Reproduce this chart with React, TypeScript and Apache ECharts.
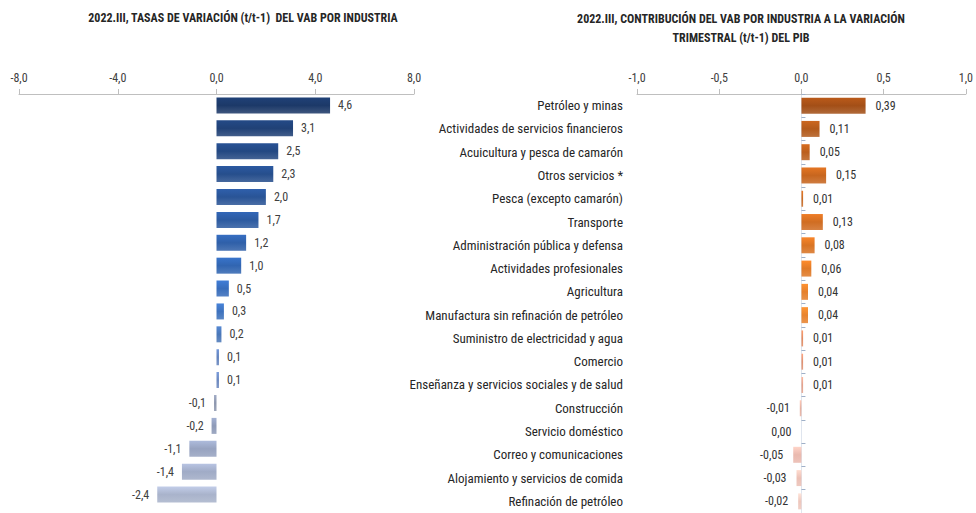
import React, { useEffect, useRef } from "react";
import * as echarts from "echarts";

const leftTitle = "2022.III, TASAS DE VARIACIÓN (t/t-1)  DEL VAB POR INDUSTRIA";
const rightTitle = "2022.III, CONTRIBUCIÓN DEL VAB POR INDUSTRIA A LA VARIACIÓN\nTRIMESTRAL (t/t-1) DEL PIB";

const leftValues = [4.6, 3.1, 2.5, 2.3, 2.0, 1.7, 1.2, 1.0, 0.5, 0.3, 0.2, 0.1, 0.1, -0.1, -0.2, -1.1, -1.4, -2.4];

const industries = [
  "Petróleo y minas",
  "Actividades de servicios financieros",
  "Acuicultura y pesca de camarón",
  "Otros servicios *",
  "Pesca (excepto camarón)",
  "Transporte",
  "Administración pública y defensa",
  "Actividades profesionales",
  "Agricultura",
  "Manufactura sin refinación de petróleo",
  "Suministro de electricidad y agua",
  "Comercio",
  "Enseñanza y servicios sociales y de salud",
  "Construcción",
  "Servicio doméstico",
  "Correo y comunicaciones",
  "Alojamiento y servicios de comida",
  "Refinación de petróleo",
];
const rightValues = [0.39, 0.11, 0.05, 0.15, 0.01, 0.13, 0.08, 0.06, 0.04, 0.04, 0.01, 0.01, 0.01, -0.01, 0.0, -0.05, -0.03, -0.02];

const leftTicks = [-8, -4, 0, 4, 8];
const rightTicks = [-1, -0.5, 0, 0.5, 1];

// style palettes (not data)
const leftColors = [
  "#1c3968", "#204176", "#234882", "#264e8c", "#295496", "#2c5aa0", "#2f60a9", "#3165b1",
  "#386dbb", "#3e72bd", "#4a77b8", "#6383bd", "#6b88bf", "#8c96ad", "#8e9ab8", "#97a3c0",
  "#a0abc6", "#a9b3cb",
];
const rightColors = [
  "#a34f17", "#b25a1b", "#bb5f1d", "#c7661f", "#c96a22", "#d06d22", "#d97424", "#e07a27",
  "#e57f2b", "#e8832e", "#e28a60", "#e09070", "#e3a08a", "#e6b0a0", "#e8b8a8", "#eab9ae",
  "#ecc0b5", "#eec7bd",
];

const FONT = "'Liberation Sans Narrow', 'Arial Narrow', 'Roboto Condensed', 'Liberation Sans', sans-serif";

function grad(c: string) {
  return new echarts.graphic.LinearGradient(0, 0, 0, 1, [
    { offset: 0, color: echarts.color.lift(c, -0.15) as string },
    { offset: 0.5, color: c },
    { offset: 1, color: echarts.color.lift(c, 0.15) as string },
  ]);
}

export default function App() {
  const ref = useRef<HTMLDivElement>(null);
  useEffect(() => {
    if (!ref.current) return;
    const chart = echarts.init(ref.current, null, { renderer: "svg" });
    const valueAxisCommon = {
      type: "value" as const,
      position: "top" as const,
      splitLine: { show: false },
      axisLine: { show: true, onZero: false, lineStyle: { color: "#bfbfbf", width: 1 } },
      axisTick: { show: true, length: 5, lineStyle: { color: "#bfbfbf" } },
    };
    chart.setOption({
      animation: false,
      backgroundColor: "#ffffff",
      graphic: [
        {
          type: "text",
          x: 243,
          y: 18,
          style: {
            text: leftTitle,
            align: "center",
            verticalAlign: "middle",
            fontFamily: FONT,
            fontWeight: "bold",
            fontSize: 12,
            fill: "#262626",
          },
        },
        {
          type: "text",
          x: 741,
          y: 28,
          style: {
            text: rightTitle,
            align: "center",
            verticalAlign: "middle",
            fontFamily: FONT,
            fontWeight: "bold",
            fontSize: 12,
            lineHeight: 19,
            fill: "#262626",
          },
        },
      ],
      grid: [
        { left: 19, right: 562, top: 94, bottom: 7 },
        { left: 637, right: 9, top: 94, bottom: 0 },
      ],
      xAxis: [
        {
          ...valueAxisCommon,
          gridIndex: 0,
          min: leftTicks[0],
          max: leftTicks[leftTicks.length - 1],
          interval: 4,
          axisLabel: {
            margin: 10,
            color: "#404040",
            fontFamily: FONT,
            fontSize: 12,
            formatter: (v: number) => v.toFixed(1).replace(".", ","),
          },
        },
        {
          ...valueAxisCommon,
          gridIndex: 1,
          min: rightTicks[0],
          max: rightTicks[rightTicks.length - 1],
          interval: 0.5,
          axisLabel: {
            margin: 10,
            color: "#404040",
            fontFamily: FONT,
            fontSize: 12,
            formatter: (v: number) => v.toFixed(1).replace(".", ","),
          },
        },
      ],
      yAxis: [
        {
          type: "category",
          gridIndex: 0,
          data: industries,
          inverse: true,
          axisLine: { show: false },
          axisTick: { show: false },
          axisLabel: { show: false },
        },
        {
          type: "category",
          gridIndex: 1,
          data: industries,
          inverse: true,
          axisLine: { show: false, onZero: false },
          axisTick: { show: false },
          axisLabel: {
            margin: 14,
            color: "#262626",
            fontFamily: FONT,
            fontSize: 13,
          },
        },
        {
          type: "category",
          gridIndex: 1,
          data: industries,
          inverse: true,
          axisLine: { show: true, onZero: true, lineStyle: { color: "#dfe5ee" } },
          axisTick: { show: true, length: 4, lineStyle: { color: "#9fb0c8" } },
          axisLabel: { show: false },
        },
      ],
      series: [
        {
          type: "bar",
          xAxisIndex: 0,
          yAxisIndex: 0,
          barWidth: 16,
          data: leftValues.map((v, i) => ({
            value: v,
            itemStyle: { color: grad(leftColors[i]) },
            label: { position: v < 0 ? "left" : "right" },
          })),
          label: {
            show: true,
            distance: 8,
            color: "#404040",
            fontFamily: FONT,
            fontSize: 12,
            formatter: (p: any) => (p.value as number).toFixed(1).replace(".", ","),
          },
        },
        {
          type: "bar",
          xAxisIndex: 1,
          yAxisIndex: 1,
          barWidth: 16,
          data: rightValues.map((v, i) => ({
            value: v,
            itemStyle: { color: grad(rightColors[i]) },
            label: { position: v <= 0 ? "left" : "right" },
          })),
          label: {
            show: true,
            distance: 10,
            color: "#333333",
            fontFamily: FONT,
            fontSize: 12,
            formatter: (p: any) => (p.value as number).toFixed(2).replace(".", ","),
          },
        },
      ],
    });
    return () => chart.dispose();
  }, []);
  return (
    <div
      ref={ref}
      style={{ position: "absolute", left: 0, top: 0, width: 976, height: 513 }}
    />
  );
}
